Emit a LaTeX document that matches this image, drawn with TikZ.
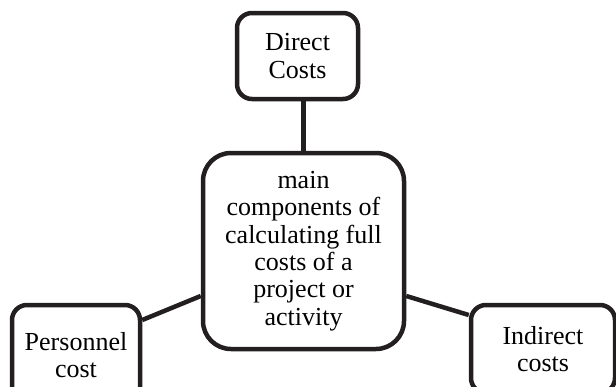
\documentclass[tikz,border=0pt]{standalone}
\usepackage{fontspec}
\setmainfont{Liberation Serif}
\definecolor{ink}{HTML}{231F20}
\begin{document}
\begin{tikzpicture}[x=1pt,y=-1pt]
\tikzset{
  box/.style={draw=ink, line width=4.5pt, rounded corners=15pt, align=center, inner sep=0pt,
    font=\fontsize{26}{27.4}\selectfont, text=black},
  link/.style={draw=ink, line width=4.5pt}
}
\useasboundingbox (0,0) rectangle (616,386);
\clip (0,0) rectangle (616,386);
\node[box, minimum width=121pt, minimum height=86pt] (direct) at (297.5,56) {Direct\\Costs};
\node[box, rounded corners=28pt, minimum width=201pt, minimum height=196pt] (main) at (303.5,251)
  {main\\components of\\calculating full\\costs of a\\project or\\activity};
\node[box, minimum width=128pt, minimum height=100pt] (pers) at (76,355) {Personnel\\cost};
\node[box, minimum width=144pt, minimum height=88pt] (ind) at (543,349) {Indirect\\costs};
\draw[link] (direct.south -| main.north) -- (main.north);
\draw[link] ([yshift=-45pt]main.west) -- ([yshift=35pt]pers.east);
\draw[link] ([yshift=-45pt]main.east) -- ([yshift=34pt]ind.west);
\end{tikzpicture}
\end{document}
